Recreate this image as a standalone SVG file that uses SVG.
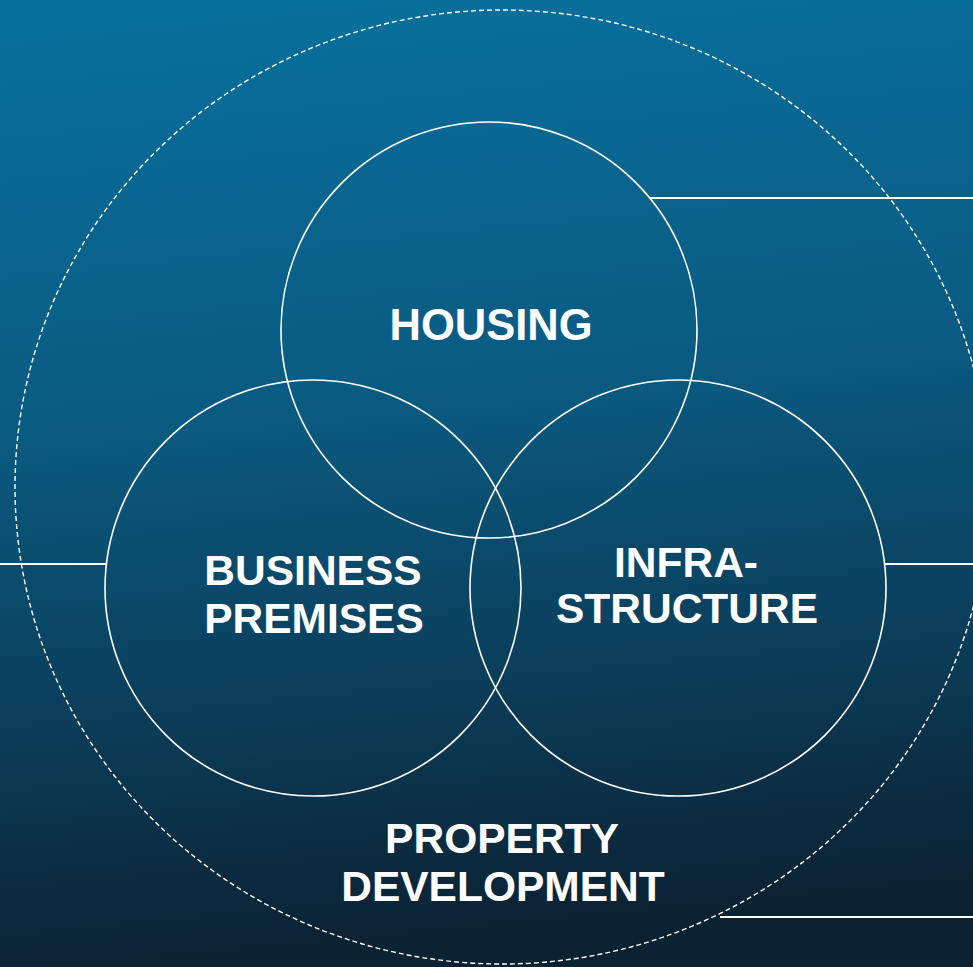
<svg xmlns="http://www.w3.org/2000/svg" width="973" height="967" viewBox="0 0 973 967">
<defs>
<linearGradient id="bg" x1="0" y1="0" x2="0.1" y2="1">
<stop offset="0" stop-color="#07719e"/>
<stop offset="0.45" stop-color="#0a5a80"/>
<stop offset="0.75" stop-color="#0b3d59"/>
<stop offset="1" stop-color="#0b2233"/>
</linearGradient>
<style>
.c{fill:none;stroke:#fff;stroke-width:1.6}
.l{stroke:#fff;stroke-width:1.8;fill:none}
.t{font-family:"Liberation Sans",Arial,sans-serif;font-weight:bold;font-size:42.5px;fill:#fff;text-anchor:middle}
</style>
</defs>
<rect width="973" height="967" fill="url(#bg)"/>
<g id="property-development">
<ellipse cx="502" cy="487" rx="487" ry="477" fill="none" stroke="#fff" stroke-width="1.4" stroke-dasharray="5 3"/>
<text class="t" x="502" y="853">PROPERTY</text>
<text class="t" x="503" y="901">DEVELOPMENT</text>
</g>
<g id="connectors">
<line class="l" x1="650" y1="198" x2="973" y2="198"/>
<line class="l" x1="0" y1="564" x2="106" y2="564"/>
<line class="l" x1="885" y1="564" x2="973" y2="564"/>
<line class="l" x1="720" y1="917" x2="973" y2="917"/>
</g>
<g id="housing">
<circle class="c" cx="489" cy="330" r="208"/>
<text class="t" x="491" y="340" style="font-size:43.5px">HOUSING</text>
</g>
<g id="business-premises">
<circle class="c" cx="313" cy="588" r="208"/>
<text class="t" x="313" y="585">BUSINESS</text>
<text class="t" x="314" y="633">PREMISES</text>
</g>
<g id="infrastructure">
<circle class="c" cx="678" cy="588" r="208"/>
<text class="t" x="686" y="577">INFRA-</text>
<text class="t" x="687" y="623">STRUCTURE</text>
</g>
</svg>
